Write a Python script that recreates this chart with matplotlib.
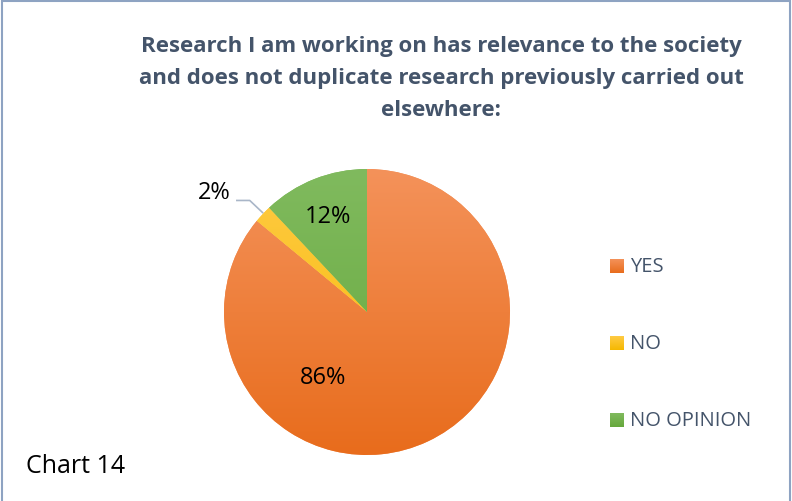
import numpy as np
import matplotlib
matplotlib.use("Agg")
import matplotlib.pyplot as plt
from matplotlib.patches import Rectangle

categories = ["YES", "NO", "NO OPINION"]
shares = [86, 2, 12]
pct_labels = ["86%", "2%", "12%"]

# top / bottom colours of each slice's vertical gradient
tops = ["#F4925A", "#FFCB45", "#80BA5E"]
bottoms = ["#E86C1C", "#F5B800", "#66A83C"]

W, H = 792, 502
fig = plt.figure(figsize=(W / 100, H / 100), dpi=100)
fig.patch.set_facecolor("white")

# thin frame round the chart area
fig.patches.append(Rectangle((1.5 / W, -0.05), (W - 4) / W, 1.05 - 1.5 / H,
                             transform=fig.transFigure, fill=False,
                             edgecolor="#8EA3C2", linewidth=1.5))

cx, cy, r = 367, 313, 143
ax = fig.add_axes([(cx - r) / W, (H - cy - r) / H, 2 * r / W, 2 * r / H])
ax.set_xlim(-1, 1)
ax.set_ylim(-1, 1)
ax.set_aspect("equal")
ax.axis("off")

wedges, _ = ax.pie(shares, startangle=90, counterclock=False, radius=1.0,
                   colors=tops, wedgeprops=dict(linewidth=0))

def vgrad(c1, c2):
    a = np.array(matplotlib.colors.to_rgb(c1))
    b = np.array(matplotlib.colors.to_rgb(c2))
    t = np.linspace(0, 1, 256)[:, None]
    return (a * (1 - t) + b * t)[:, None, :]

for w, c1, c2 in zip(wedges, tops, bottoms):
    im = ax.imshow(vgrad(c1, c2), extent=(-1, 1, -1, 1), origin="upper",
                   aspect="auto", zorder=2)
    im.set_clip_path(w)

ax.set_xlim(-1, 1)
ax.set_ylim(-1, 1)

# data labels
lab_font = dict(fontsize=17, family="Open Sans", color="#000000", zorder=5)
ax.text(-0.31, -0.455, pct_labels[0], ha="center", va="center", **lab_font)
ax.text(-0.275, 0.67, pct_labels[2], ha="center", va="center", **lab_font)
ax.text(-0.955, 0.84, pct_labels[1], ha="right", va="center", **lab_font)
ax.plot([-0.91, -0.82, -0.73], [0.78, 0.78, 0.695], color="#A9B6C8",
        linewidth=1.2, zorder=5, clip_on=False)

# title
title = ("Research I am working on has relevance to the society\n"
         "and does not duplicate research previously carried out\n"
         "elsewhere:")
fig.text(441 / W, 1 - 36 / H, title, ha="center", va="top", fontsize=16,
         fontweight="bold", family="Open Sans", color="#44546A",
         linespacing=1.68)

# legend
ly = [267, 344, 421]
for name, c1, c2, y in zip(categories, tops, bottoms, ly):
    sq = fig.add_axes([610 / W, (H - y - 7) / H, 14 / W, 14 / H])
    sq.imshow(vgrad(c1, c2), aspect="auto")
    sq.axis("off")
    fig.text(630 / W, 1 - y / H, name, ha="left", va="center", fontsize=14.5,
             family="Open Sans", color="#44546A")

fig.text(26 / W, 1 - 467 / H, "Chart 14", ha="left", va="center",
         fontsize=18, family="Open Sans", color="#000000")

fig.savefig("out.png", dpi=100)
